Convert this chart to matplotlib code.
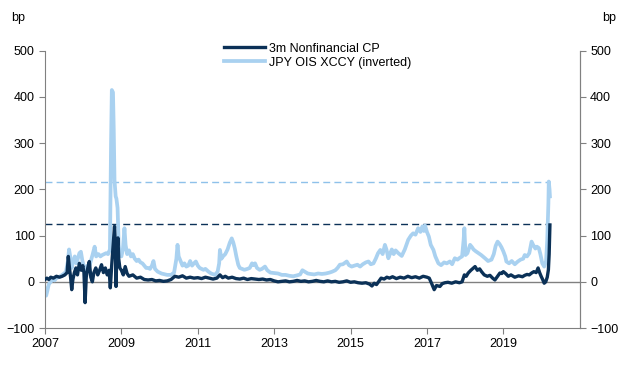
import matplotlib
matplotlib.use("Agg")
import matplotlib.pyplot as plt

plt.rcParams['font.family'] = ['Liberation Sans', 'DejaVu Sans']

# ---- data (decimal years, bp)
xccy_t = [2007.00, 2007.03, 2007.06, 2007.10, 2007.15, 2007.20, 2007.25, 2007.30, 2007.35, 2007.40,
          2007.45, 2007.50, 2007.55, 2007.60, 2007.63, 2007.66, 2007.70, 2007.74, 2007.78, 2007.82,
          2007.86, 2007.90, 2007.94, 2007.98, 2008.03, 2008.07, 2008.11, 2008.15, 2008.20, 2008.25,
          2008.30, 2008.34, 2008.40, 2008.45, 2008.50, 2008.55, 2008.60, 2008.65, 2008.70, 2008.73,
          2008.75, 2008.78, 2008.80, 2008.82, 2008.85, 2008.87, 2008.90, 2008.93, 2008.96, 2009.00,
          2009.04, 2009.08, 2009.11, 2009.15, 2009.20, 2009.25, 2009.30, 2009.35, 2009.40, 2009.45,
          2009.50, 2009.55, 2009.60, 2009.65, 2009.70, 2009.75, 2009.80, 2009.84, 2009.88, 2009.95,
          2010.00, 2010.05, 2010.10, 2010.20, 2010.30, 2010.38, 2010.44, 2010.47, 2010.50, 2010.55,
          2010.60, 2010.65, 2010.70, 2010.75, 2010.80, 2010.85, 2010.90, 2010.95, 2011.00, 2011.05,
          2011.10, 2011.15, 2011.20, 2011.28, 2011.35, 2011.45, 2011.52, 2011.56, 2011.58, 2011.62,
          2011.66, 2011.72, 2011.78, 2011.84, 2011.89, 2011.93, 2011.97, 2012.01, 2012.06, 2012.10,
          2012.16, 2012.22, 2012.30, 2012.36, 2012.42, 2012.46, 2012.50, 2012.55, 2012.62, 2012.68,
          2012.76, 2012.82, 2012.90, 2013.00, 2013.10, 2013.20, 2013.30, 2013.40, 2013.50, 2013.60,
          2013.68, 2013.74, 2013.80, 2013.88, 2013.95, 2014.05, 2014.15, 2014.25, 2014.35, 2014.45,
          2014.52, 2014.60, 2014.66, 2014.72, 2014.80, 2014.90, 2014.96, 2015.03, 2015.10, 2015.18,
          2015.25, 2015.32, 2015.40, 2015.47, 2015.53, 2015.60, 2015.66, 2015.72, 2015.78, 2015.84,
          2015.90, 2015.94, 2015.99, 2016.04, 2016.08, 2016.13, 2016.18, 2016.25, 2016.34, 2016.42,
          2016.51, 2016.58, 2016.64, 2016.70, 2016.77, 2016.83, 2016.88, 2016.92, 2016.95, 2017.00,
          2017.05, 2017.10, 2017.17, 2017.22, 2017.30, 2017.37, 2017.45, 2017.52, 2017.60, 2017.66,
          2017.73, 2017.80, 2017.86, 2017.92, 2017.96, 2017.98, 2018.01, 2018.06, 2018.13, 2018.18,
          2018.22, 2018.28, 2018.35, 2018.42, 2018.52, 2018.60, 2018.69, 2018.75, 2018.80, 2018.85,
          2018.90, 2018.95, 2019.00, 2019.05, 2019.08, 2019.15, 2019.22, 2019.30, 2019.38, 2019.45,
          2019.52, 2019.56, 2019.62, 2019.68, 2019.74, 2019.78, 2019.84, 2019.88, 2019.93, 2019.97,
          2020.02, 2020.07, 2020.12, 2020.15, 2020.18, 2020.19, 2020.21, 2020.22]
xccy_v = [-15, -30, -20, -5, 0, 5, 3, 8, 10, 12,
          15, 18, 22, 45, 70, 55, 30, 45, 55, 40,
          50, 62, 65, 45, 30, 22, 35, 30, 45, 60,
          76, 55, 60, 55, 58, 60, 62, 60, 70, 300,
          415, 410, 330, 220, 185, 180, 160, 80, 60, 55,
          70, 116, 80, 60, 68, 55, 60, 50, 45, 48,
          42, 40, 35, 30, 30, 28, 35, 45, 28, 22,
          20, 18, 17, 15, 15, 20, 50, 80, 55, 45,
          35, 40, 33, 35, 45, 35, 40, 44, 35, 30,
          28, 26, 28, 22, 18, 15, 22, 40, 69, 50,
          55, 60, 70, 85, 94, 85, 72, 55, 37, 30,
          28, 26, 28, 30, 40, 36, 40, 30, 26, 28,
          33, 25, 20, 19, 18, 15, 15, 13, 12, 14,
          16, 25, 22, 18, 17, 16, 18, 17, 18, 20,
          22, 25, 30, 37, 38, 44, 36, 33, 35, 37,
          33, 38, 42, 44, 38, 40, 50, 62, 69, 60,
          80, 70, 51, 62, 70, 60, 68, 62, 56, 70,
          91, 100, 105, 102, 116, 108, 120, 110, 122, 108,
          98, 80, 69, 55, 40, 36, 42, 40, 44, 38,
          51, 48, 52, 55, 90, 116, 58, 62, 80, 75,
          70, 66, 62, 58, 51, 45, 48, 60, 78, 87,
          82, 75, 66, 55, 44, 40, 45, 38, 44, 48,
          50, 58, 55, 62, 87, 80, 72, 76, 73, 60,
          40, 33, 45, 90, 170, 217, 200, 185]

cp_t = [2007.00, 2007.05, 2007.10, 2007.15, 2007.22, 2007.30, 2007.38, 2007.45, 2007.52, 2007.58,
        2007.61, 2007.64, 2007.67, 2007.70, 2007.73, 2007.77, 2007.81, 2007.85, 2007.90, 2007.95,
        2007.99, 2008.02, 2008.05, 2008.08, 2008.12, 2008.16, 2008.20, 2008.24, 2008.28, 2008.33,
        2008.38, 2008.43, 2008.48, 2008.53, 2008.58, 2008.63, 2008.68, 2008.71, 2008.75, 2008.80,
        2008.82, 2008.84, 2008.86, 2008.88, 2008.91, 2008.93, 2008.96, 2009.00, 2009.05, 2009.10,
        2009.15, 2009.20, 2009.30, 2009.40, 2009.50, 2009.60, 2009.70, 2009.80, 2009.90, 2010.00,
        2010.10, 2010.20, 2010.30, 2010.40, 2010.50, 2010.60, 2010.70, 2010.80, 2010.90, 2011.00,
        2011.10, 2011.20, 2011.30, 2011.40, 2011.50, 2011.58, 2011.65, 2011.72, 2011.80, 2011.90,
        2012.00, 2012.10, 2012.20, 2012.30, 2012.40, 2012.50, 2012.60, 2012.70, 2012.80, 2012.90,
        2013.00, 2013.10, 2013.20, 2013.30, 2013.40, 2013.50, 2013.60, 2013.70, 2013.80, 2013.90,
        2014.00, 2014.10, 2014.20, 2014.30, 2014.40, 2014.50, 2014.60, 2014.70, 2014.80, 2014.90,
        2015.00, 2015.10, 2015.20, 2015.30, 2015.40, 2015.50, 2015.56, 2015.62, 2015.68, 2015.75,
        2015.80, 2015.88, 2015.95, 2016.02, 2016.10, 2016.20, 2016.30, 2016.40, 2016.50, 2016.60,
        2016.70, 2016.80, 2016.90, 2017.00, 2017.06, 2017.12, 2017.19, 2017.25, 2017.34, 2017.40,
        2017.47, 2017.55, 2017.65, 2017.75, 2017.85, 2017.92, 2017.98, 2018.03, 2018.08, 2018.15,
        2018.22, 2018.26, 2018.32, 2018.38, 2018.43, 2018.50, 2018.58, 2018.65, 2018.72, 2018.78,
        2018.85, 2018.91, 2018.96, 2019.00, 2019.06, 2019.13, 2019.20, 2019.30, 2019.40, 2019.50,
        2019.56, 2019.62, 2019.68, 2019.74, 2019.80, 2019.86, 2019.91, 2019.95, 2019.99, 2020.03,
        2020.07, 2020.11, 2020.15, 2020.18, 2020.20, 2020.22]
cp_v = [5, 8, 5, 10, 8, 12, 10, 12, 15, 20,
        55, 30, 10, -17, 5, 20, 30, 15, 40, 25,
        35, 20, -45, 10, 30, 44, 10, 0, 20, 30,
        15, 25, 37, 20, 30, 15, 25, -13, 40, 95,
        120, 84, -10, 60, 95, 50, 30, 25, 15, 33,
        18, 12, 15, 8, 10, 5, 4, 5, 2, 3,
        1, 2, 5, 12, 10, 13, 8, 10, 8, 9,
        7, 10, 8, 6, 8, 15, 9, 12, 8, 10,
        7, 6, 8, 5, 7, 6, 5, 6, 4, 5,
        2, 0, 1, 2, 0, 1, 3, 1, 2, 0,
        1, 3, 1, 0, 2, 0, 1, -1, 0, 2,
        -1, 0, -2, -3, -2, -5, -9, -3, -6, 2,
        8, 6, 10, 8, 11, 7, 10, 8, 12, 9,
        11, 8, 12, 10, 8, -3, -17, -8, -10, -4,
        -2, -1, -3, 0, -2, 0, 15, 12, 19, 25,
        30, 33, 25, 28, 22, 15, 12, 14, 8, 4,
        12, 19, 18, 22, 18, 12, 15, 10, 13, 11,
        14, 16, 15, 19, 22, 20, 30, 20, 12, 5,
        -3, 0, 10, 26, 60, 123]

cp_level = 125     # dashed reference levels
xccy_level = 217
year_ticks = [2007, 2009, 2011, 2013, 2015, 2017, 2019]

dark = '#0b3157'
light = '#a9d1f0'
grey = '#808080'

fig = plt.figure(figsize=(6.4, 3.69), dpi=100)
ax = fig.add_axes([0.0703, 0.111, 0.8355, 0.7515])

ax.axhline(0, color=grey, lw=1.0, zorder=1)
ax.plot([2007, 2020.22], [xccy_level, xccy_level], color='#8ec1ea', lw=1.0, ls=(0, (5, 3)), zorder=1)
ax.plot([2007, 2020.22], [cp_level, cp_level], color=dark, lw=1.0, ls=(0, (5, 3)), zorder=1)

ax.plot(xccy_t, xccy_v, color=light, lw=2.7, label='JPY OIS XCCY (inverted)', zorder=2)
ax.plot(cp_t, cp_v, color=dark, lw=2.4, label='3m Nonfinancial CP', zorder=3)

ax.set_xlim(2007, 2021)
ax.set_ylim(-100, 500)
ax.set_xticks(year_ticks)
ax.set_xticklabels([str(y) for y in year_ticks])
ax.set_yticks(range(-100, 501, 100))

for s in ['left', 'right', 'bottom']:
    ax.spines[s].set_color(grey)
ax.spines['top'].set_visible(False)
ax.tick_params(colors=grey, labelcolor='black', labelsize=9, length=4, direction='out')

ax2 = ax.twinx()
ax2.set_ylim(-100, 500)
ax2.set_yticks(range(-100, 501, 100))
for s in ['left', 'right', 'bottom', 'top']:
    ax2.spines[s].set_visible(False)
ax2.spines['right'].set_visible(True)
ax2.spines['right'].set_color(grey)
ax2.tick_params(colors=grey, labelcolor='black', labelsize=9, length=4, direction='out')

h, l = ax.get_legend_handles_labels()
ax.legend(h[::-1], l[::-1], loc='upper center', bbox_to_anchor=(0.51, 1.06), frameon=False,
          fontsize=9, handlelength=3.3, handletextpad=0.3, labelspacing=0.15, borderpad=0.2)

fig.text(0.028, 0.95, 'bp', fontsize=9, va='center', ha='center')
fig.text(0.952, 0.95, 'bp', fontsize=9, va='center', ha='center')

fig.savefig('out.png', dpi=100)
